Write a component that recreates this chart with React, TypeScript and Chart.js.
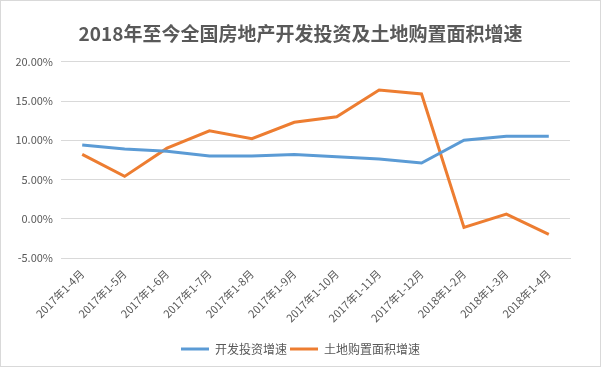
import React, { useEffect, useRef } from "react";
import { Chart, registerables } from "chart.js";

Chart.register(...registerables);

const categories = [
  "2017年1-4月", "2017年1-5月", "2017年1-6月", "2017年1-7月", "2017年1-8月", "2017年1-9月",
  "2017年1-10月", "2017年1-11月", "2017年1-12月", "2018年1-2月", "2018年1-3月", "2018年1-4月",
];
const investGrowth = [9.4, 8.9, 8.6, 8.0, 8.0, 8.2, 7.9, 7.6, 7.1, 10.0, 10.5, 10.5];
const landGrowth = [8.2, 5.4, 9.0, 11.2, 10.2, 12.3, 13.0, 16.4, 15.9, -1.1, 0.6, -2.0];
const seriesNames = ["开发投资增速", "土地购置面积增速"];
const seriesColors = ["#5B9BD5", "#ED7D31"];
const titleText = "2018年至今全国房地产开发投资及土地购置面积增速";

const FONT = "'Noto Sans CJK SC', 'Noto Sans', sans-serif";

const borderPlugin = {
  id: "outerBorder",
  beforeDraw(chart: any) {
    const ctx = chart.ctx;
    ctx.save();
    ctx.fillStyle = "#ffffff";
    ctx.fillRect(0, 0, chart.width, chart.height);
    ctx.restore();
  },
  afterDraw(chart: any) {
    const ctx = chart.ctx;
    ctx.save();
    ctx.strokeStyle = "#D9D9D9";
    ctx.lineWidth = 1;
    ctx.strokeRect(0.5, 0.5, chart.width - 1, chart.height - 1);
    ctx.restore();
  },
};

export default function App() {
  const ref = useRef<HTMLCanvasElement>(null);
  useEffect(() => {
    document.body.style.margin = "0";
    const chart = new Chart(ref.current!, {
      type: "line",
      data: {
        labels: categories,
        datasets: [
          {
            label: seriesNames[0],
            data: investGrowth,
            borderColor: seriesColors[0],
            backgroundColor: seriesColors[0],
            borderWidth: 3,
            pointRadius: 0,
            tension: 0,
          },
          {
            label: seriesNames[1],
            data: landGrowth,
            borderColor: seriesColors[1],
            backgroundColor: seriesColors[1],
            borderWidth: 3,
            pointRadius: 0,
            tension: 0,
          },
        ],
      },
      options: {
        animation: false,
        responsive: false,
        maintainAspectRatio: false,
        layout: { padding: { left: 0, right: 0, top: 0, bottom: 2 } },
        plugins: {
          title: {
            display: true,
            text: titleText,
            color: "#595959",
            font: { family: FONT, size: 19, weight: "bold" },
            padding: { top: 22, bottom: 17 },
          },
          legend: {
            position: "bottom",
            labels: {
              color: "#595959",
              font: { family: FONT, size: 12 },
              boxWidth: 28,
              boxHeight: 3,
              padding: 3,
              generateLabels: (chart: any) =>
                chart.data.datasets.map((ds: any, i: number) => ({
                  text: ds.label,
                  fillStyle: seriesColors[i],
                  strokeStyle: seriesColors[i],
                  lineWidth: 0,
                  fontColor: "#595959",
                  datasetIndex: i,
                  hidden: false,
                })),
            },
          },
          tooltip: { enabled: false },
        },
        scales: {
          x: {
            offset: true,
            grid: { display: false, drawTicks: false },
            border: { display: true, color: "#D9D9D9" },
            ticks: {
              color: "#595959",
              font: { family: FONT, size: 11 },
              minRotation: 45,
              maxRotation: 45,
              autoSkip: false,
              padding: 9,
            },
            afterFit: (scale: any) => {
              scale.height = 82;
            },
          },
          y: {
            min: -5,
            max: 20,
            grid: { color: "#D9D9D9", drawTicks: false },
            border: { display: false },
            ticks: {
              stepSize: 5,
              color: "#595959",
              font: { family: FONT, size: 11 },
              padding: 8,
              callback: (v: any) => Number(v).toFixed(2) + "%",
            },
            afterFit: (scale: any) => {
              scale.width = 61;
            },
          },
          yRight: {
            position: "right",
            display: true,
            grid: { display: false, drawTicks: false },
            border: { display: false },
            ticks: { display: false },
            afterFit: (scale: any) => {
              scale.width = 31;
            },
          },
        },
      },
      plugins: [borderPlugin],
    });
    return () => chart.destroy();
  }, []);
  return <canvas ref={ref} width={601} height={367} style={{ display: "block" }} />;
}
